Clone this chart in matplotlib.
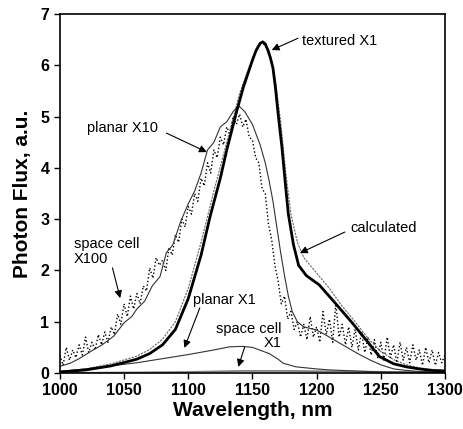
import matplotlib
matplotlib.use("Agg")
import matplotlib.pyplot as plt

plt.rcParams['font.family'] = ['Liberation Sans', 'DejaVu Sans']

# textured cell, X1 (thick line)
tex_wl = [1000, 1020, 1040, 1060, 1070, 1080, 1090, 1100, 1110, 1117, 1125, 1130, 1138, 1143,
          1150, 1153, 1156, 1158, 1160, 1162, 1164, 1166, 1168, 1170, 1173, 1176, 1178, 1182,
          1186, 1192, 1202, 1215, 1228, 1240, 1249, 1260, 1270, 1280, 1290, 1300]
tex_val = [0.02, 0.06, 0.14, 0.27, 0.38, 0.55, 0.85, 1.45, 2.3, 3.05, 3.8, 4.35, 5.13, 5.58,
           6.1, 6.3, 6.43, 6.46, 6.42, 6.3, 6.15, 5.95, 5.55, 5.06, 4.4, 3.6, 3.1, 2.5,
           2.1, 1.9, 1.72, 1.35, 0.97, 0.6, 0.32, 0.18, 0.12, 0.08, 0.05, 0.04]

# calculated spectrum
calc_wl = [1000, 1020, 1040, 1060, 1070, 1080, 1090, 1100, 1110, 1120, 1130, 1140, 1150, 1157,
           1163, 1168, 1172, 1176, 1180, 1185, 1190, 1200, 1210, 1220, 1230, 1240, 1250, 1260,
           1270, 1280, 1290, 1300]
calc_val = [0.03, 0.08, 0.18, 0.33, 0.46, 0.66, 1.0, 1.65, 2.55, 3.55, 4.5, 5.45, 6.15, 6.45,
            6.3, 5.7, 4.9, 3.9, 3.1, 2.55, 2.25, 1.95, 1.65, 1.3, 1.0, 0.68, 0.42, 0.26,
            0.16, 0.1, 0.07, 0.05]

# planar cell, X10
p10_wl = [1000, 1008, 1015, 1026, 1033, 1042, 1050, 1056, 1060, 1066, 1072, 1078, 1083, 1088,
          1094, 1100, 1105, 1110, 1115, 1120, 1125, 1130, 1135, 1139, 1144, 1150, 1156, 1160,
          1163, 1166, 1169, 1172, 1175, 1178, 1181, 1185, 1190, 1200, 1210, 1223, 1232, 1242,
          1250, 1255, 1260, 1270, 1280, 1300]
p10_val = [0.13, 0.19, 0.28, 0.45, 0.55, 0.72, 0.98, 1.1, 1.25, 1.4, 1.7, 1.88, 2.35, 2.5,
           2.95, 3.3, 3.55, 3.9, 4.35, 4.5, 4.8, 4.9, 5.1, 5.22, 5.1, 4.85, 4.45, 4.1,
           3.75, 3.35, 2.85, 2.35, 1.9, 1.5, 1.2, 1.0, 0.9, 0.84, 0.7, 0.51, 0.38, 0.25,
           0.16, 0.12, 0.08, 0.05, 0.03, 0.02]

# planar cell, X1
p1_wl = [1000, 1020, 1040, 1060, 1080, 1100, 1120, 1132, 1142, 1150, 1163, 1170, 1174, 1184,
         1200, 1210, 1230, 1250, 1300]
p1_val = [0.03, 0.08, 0.14, 0.2, 0.28, 0.36, 0.45, 0.51, 0.52, 0.5, 0.38, 0.27, 0.19, 0.12,
          0.08, 0.06, 0.04, 0.02, 0.01]

# space cell, X1
s1_wl = [1000, 1050, 1100, 1140, 1180, 1220, 1260, 1300]
s1_val = [0.0, 0.01, 0.02, 0.04, 0.04, 0.03, 0.02, 0.01]

# space cell, X100 (noisy measurement, 2.5 nm steps)
s100_wl = [1000 + 2.5 * i for i in range(121)]
s100_val = [0.35, 0.15, 0.5, 0.25, 0.45, 0.3, 0.55, 0.35, 0.7, 0.4,
            0.6, 0.45, 0.75, 0.55, 0.8, 0.6, 0.9, 0.75, 1.15, 0.95,
            1.35, 1.1, 1.5, 1.25, 1.55, 1.35, 1.7, 1.6, 2.05, 1.85,
            2.25, 2.1, 2.2, 2.0, 2.45, 2.3, 2.7, 2.55, 3.0, 2.85,
            3.25, 3.1, 3.5, 3.35, 3.8, 3.65, 4.1, 3.9, 4.35, 4.2,
            4.6, 4.45, 4.8, 4.65, 5.0, 4.85, 5.05, 4.8, 4.95, 4.6,
            4.55, 4.2, 4.1, 3.6, 3.5, 2.9, 2.6, 2.1, 1.8, 1.35,
            1.5, 1.05, 1.2, 0.85, 1.0, 0.7, 0.95, 0.65, 1.1, 0.7,
            0.9, 0.6, 1.2, 0.75, 1.05, 0.6, 1.35, 0.7, 0.95, 0.55,
            0.9, 0.5, 0.85, 0.45, 0.8, 0.4, 0.7, 0.35, 0.65, 0.3,
            0.6, 0.25, 0.7, 0.3, 0.55, 0.2, 0.6, 0.25, 0.5, 0.2,
            0.55, 0.25, 0.45, 0.15, 0.5, 0.2, 0.45, 0.15, 0.4, 0.2,
            0.35]

fig = plt.figure(figsize=(4.64, 4.29), dpi=100)
ax = fig.add_axes([0.129, 0.1305, 0.83, 0.8365])

ax.plot(s100_wl, s100_val, color='black', lw=1.0, ls=':')
ax.plot(s1_wl, s1_val, color='0.5', lw=1.3)
ax.plot(p1_wl, p1_val, color='0.2', lw=0.8)
ax.plot(p10_wl, p10_val, color='0.2', lw=0.8)
ax.plot(calc_wl, calc_val, color='0.4', lw=0.8, ls=(0, (2, 1)))
ax.plot(tex_wl, tex_val, color='black', lw=2.0)

ax.set_xlim(1000, 1300)
ax.set_ylim(0, 7)
ax.set_xticks([1000, 1050, 1100, 1150, 1200, 1250, 1300])
ax.set_yticks(range(8))
ax.tick_params(direction='out', length=4, width=1, labelsize=11.5)
for lab in ax.get_xticklabels() + ax.get_yticklabels():
    lab.set_fontweight('bold')
for s in ax.spines.values():
    s.set_linewidth(1.2)

ax.set_xlabel('Wavelength, nm', fontsize=15, fontweight='bold', labelpad=2)
ax.set_ylabel('Photon Flux, a.u.', fontsize=15, fontweight='bold', labelpad=6)

arr = dict(arrowstyle='-|>', color='black', lw=0.8, mutation_scale=11, shrinkA=0, shrinkB=0)
fs = 10.5
ax.annotate('', xy=(1165, 6.3), xytext=(1185.5, 6.53), arrowprops=arr)
ax.text(1189, 6.47, 'textured X1', fontsize=fs, va='center', ha='left')

ax.annotate('', xy=(1114.5, 4.31), xytext=(1083, 4.68), arrowprops=arr)
ax.text(1021, 4.78, 'planar X10', fontsize=fs, va='center', ha='left')

ax.annotate('', xy=(1047, 1.46), xytext=(1041, 2.05), arrowprops=arr)
ax.text(1011, 2.37, 'space cell\nX100', fontsize=fs, va='center', ha='left', linespacing=1.05)

ax.annotate('', xy=(1097, 0.49), xytext=(1109, 1.27), arrowprops=arr)
ax.text(1104, 1.42, 'planar X1', fontsize=fs, va='center', ha='left')

ax.annotate('', xy=(1139, 0.12), xytext=(1144, 0.51), arrowprops=arr)
ax.text(1173, 0.72, 'space cell\nX1', fontsize=fs, va='center', ha='right',
        multialignment='right', linespacing=0.95)

ax.annotate('', xy=(1187, 2.34), xytext=(1222, 2.75), arrowprops=arr)
ax.text(1226, 2.83, 'calculated', fontsize=fs, va='center', ha='left')

fig.savefig('out.png', dpi=100)
